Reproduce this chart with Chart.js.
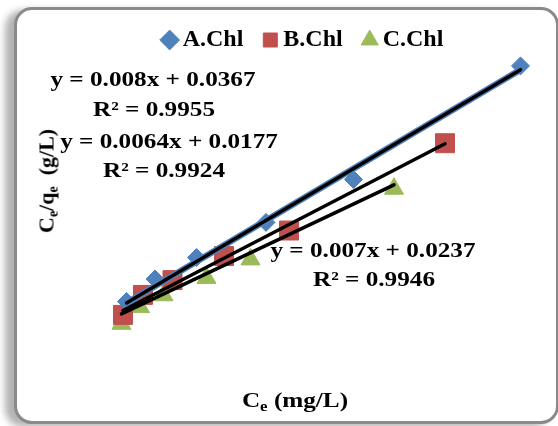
<!DOCTYPE html>
<html>
<head>
<meta charset="utf-8">
<script src="https://cdn.jsdelivr.net/npm/chart.js@4.4.1/dist/chart.umd.min.js"></script>
<style>
  html, body { margin: 0; padding: 0; background: #ffffff; }
  #wrap { position: relative; width: 558px; height: 426px; overflow: hidden; background: #fff; }
  #frame {
    position: absolute; left: 14px; top: 7px; width: 539px; height: 411px;
    border: 3px solid #8a8a8a; border-radius: 18px; background: #fff;
    box-shadow: -9px 3px 7px rgba(0,0,0,0.30);
  }
  #c { position: absolute; left: 0; top: 0; }
  .t {
    position: absolute; white-space: nowrap; font-family: "Liberation Serif", "Times New Roman", serif;
    font-weight: bold; font-size: 21px; line-height: 21px; color: #000;
    transform: translateX(-50%) scaleX(1.2); transform-origin: center;
  }
  .t sub { font-size: 14px; vertical-align: -4px; line-height: 0; }
  #ytitle { font-size: 22px; transform: translate(-50%, -50%) rotate(-90deg); }
</style>
</head>
<body>
<div id="wrap">
  <div id="frame"></div>
  <canvas id="c" width="558" height="426"></canvas>
  <div class="t" style="left:153px; top:69px;">y = 0.008x + 0.0367</div>
  <div class="t" style="left:154px; top:99px;">R² = 0.9955</div>
  <div class="t" style="left:169px; top:131px;">y = 0.0064x + 0.0177</div>
  <div class="t" style="left:164px; top:160px;">R² = 0.9924</div>
  <div class="t" style="left:373px; top:240px;">y = 0.007x + 0.0237</div>
  <div class="t" style="left:374px; top:269px;">R² = 0.9946</div>
  <div class="t" style="left:295px; top:390px;">C<sub>e</sub> (mg/L)</div>
  <div class="t" id="ytitle" style="left:46px; top:181px;">C<sub>e</sub>/q<sub>e</sub> &nbsp;(g/L)</div>
</div>
<script>
// Series names
const seriesNames = ["A.Chl", "B.Chl", "C.Chl"];
// Ce (mg/L) values per series
const ceA = [2.7, 8.4, 16.7, 30.6, 48.1, 81.5];
const ceB = [2.0, 6.0, 11.9, 22.2, 35.2, 66.4];
const ceC = [1.7, 5.4, 10.1, 18.7, 27.5, 56.2];
// Ce/qe (g/L) values per series
const cqA = [0.062, 0.123, 0.181, 0.276, 0.392, 0.699];
const cqB = [0.026, 0.080, 0.120, 0.185, 0.254, 0.490];
const cqC = [0.002, 0.047, 0.079, 0.126, 0.176, 0.367];
// Linear trendline coefficients shown on the chart
const slopes = [0.008, 0.007, 0.0064];
const intercepts = [0.0367, 0.0237, 0.0177];

const colors = ["#4F81BD", "#C0504D", "#9BBB59"];
const styles = ["rectRot", "rect", "triangle"];
const radii = [9, 13.4, 11];

const xs = [ceA, ceB, ceC];
const ys = [cqA, cqB, cqC];

function pts(x, y) { return x.map((v, i) => ({ x: v, y: y[i] })); }
function trend(i) {
  const lo = Math.min(...xs[i]), hi = Math.max(...xs[i]);
  return [{ x: lo, y: slopes[i] * lo + intercepts[i] }, { x: hi, y: slopes[i] * hi + intercepts[i] }];
}

const datasets = [];
for (let i = 0; i < 3; i++) {
  datasets.push({
    label: seriesNames[i], data: pts(xs[i], ys[i]), showLine: false, clip: false,
    pointStyle: styles[i], pointRadius: radii[i], pointHoverRadius: radii[i],
    backgroundColor: colors[i], borderColor: colors[i], pointBorderWidth: 1, order: 3
  });
}
// blue underlay trendline for A
datasets.push({ label: "tA_blue", data: trend(0), showLine: true, clip: false, borderColor: "#4F81BD", borderWidth: 6.5, pointRadius: 0, order: 2, fill: false });
for (let i = 0; i < 3; i++) {
  datasets.push({ label: "trend" + i, data: trend(i), showLine: true, clip: false, borderColor: "#000000", borderWidth: 3.5, pointRadius: 0, order: 1, fill: false, borderCapStyle: "round" });
}

new Chart(document.getElementById("c"), {
  type: "scatter",
  data: { datasets },
  options: {
    responsive: false, animation: false,
    layout: { autoPadding: false, padding: { left: 54, top: 2, right: 0, bottom: 0 } },
    scales: {
      x: { type: "linear", display: false, min: -11.8, max: 89 },
      y: { type: "linear", display: false, min: -0.2743, max: 0.7095 }
    },
    plugins: {
      tooltip: { enabled: false },
      legend: {
        position: "top", align: "center",
        labels: {
          filter: (item) => item.datasetIndex < 3,
          usePointStyle: true, boxWidth: 2, boxHeight: 14, padding: 26,
          color: "#000", font: { family: "'Liberation Serif', 'Times New Roman', serif", weight: "bold", size: 24 }
        }
      }
    }
  }
});
</script>
</body>
</html>
